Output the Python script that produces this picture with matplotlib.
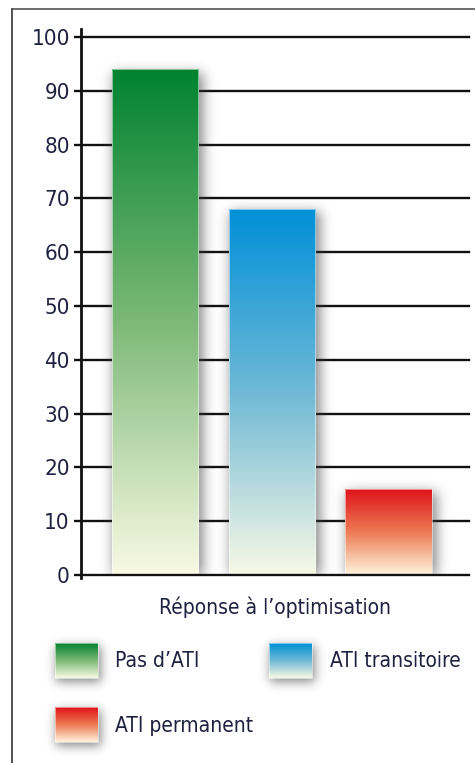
import numpy as np
import matplotlib
matplotlib.use("Agg")
import matplotlib.pyplot as plt
from matplotlib.colors import LinearSegmentedColormap

plt.rcParams['font.family'] = ['DejaVu Sans']
plt.rcParams['font.stretch'] = 'condensed'

categories = ["Pas d\u2019ATI", "ATI transitoire", "ATI permanent"]
values = [94, 68, 16]
yticks = [0, 10, 20, 30, 40, 50, 60, 70, 80, 90, 100]
xlabel = "R\u00e9ponse \u00e0 l\u2019optimisation"

# top / middle / bottom colour of each gradient
gradients = [
    ["#00832F", "#7DB978", "#F9FAE4"],
    ["#0090D8", "#6FB9D6", "#F8F9E6"],
    ["#E0101A", "#EC7A52", "#FFF4DE"],
]
text_col = "#1E2140"

W, H = 475, 763
fig = plt.figure(figsize=(W / 100, H / 100), dpi=100)

# full-figure overlay in pixel units for frame, label and legend
bg = fig.add_axes([0, 0, 1, 1], zorder=0)
bg.axis("off")

ax = fig.add_axes([81 / W, 1 - 575 / H, (469 - 81) / W, (575 - 37) / H], zorder=1)
ax.patch.set_alpha(0)

x = np.arange(len(values))
width = 0.74
xlim = (-0.634, 2.69)
ylim = (0, 100)
ax.set_xlim(*xlim)
ax.set_ylim(*ylim)


def blur(a, s):
    k = np.exp(-0.5 * (np.arange(-3 * s, 3 * s + 1) / s) ** 2)
    k /= k.sum()
    a = np.apply_along_axis(lambda r: np.convolve(r, k, mode="same"), 0, a)
    a = np.apply_along_axis(lambda r: np.convolve(r, k, mode="same"), 1, a)
    return a


# soft drop shadow under the bars
nx, ny = 388, 538
gx = np.linspace(*xlim, nx)
gy = np.linspace(ylim[1], ylim[0], ny)
GX, GY = np.meshgrid(gx, gy)
dx = 3 * (xlim[1] - xlim[0]) / nx
dy = 3 * (ylim[1] - ylim[0]) / ny
mask = np.zeros((ny, nx))
for xi, v in zip(x, values):
    inside = (np.abs(GX - xi - dx) <= width / 2 + 2 * dx / 3) & (GY <= v - dy) & (GY >= -3 * dy)
    mask[inside] = 1
sh = blur(mask, 6)
shadow = np.zeros((ny, nx, 4))
shadow[..., :3] = 0.25
shadow[..., 3] = np.clip(sh * 0.6, 0, 1)
ax.imshow(shadow, extent=(xlim[0], xlim[1], ylim[0], ylim[1]), aspect="auto",
          zorder=2, interpolation="bilinear")

for yt in yticks[1:]:
    ax.axhline(yt, color="#111111", lw=1.7, zorder=1, clip_on=False)
ax.axhline(0, color="#111111", lw=1.7, zorder=5, clip_on=False)

# gradient bars
ramp = np.linspace(1, 0, 256).reshape(-1, 1)
for xi, v, cols in zip(x, values, gradients):
    cmap = LinearSegmentedColormap.from_list("g", cols[::-1])
    bar = ax.bar(xi, v, width=width, color="none", edgecolor="none", zorder=3)[0]
    im = ax.imshow(ramp[::-1], cmap=cmap, extent=(xi - width / 2, xi + width / 2, 0, v),
                   aspect="auto", zorder=3, origin="lower")
    im.set_clip_path(bar)
    ax.add_patch(plt.Rectangle((xi - width / 2, 0), width, v, fill=False,
                               edgecolor="white", lw=0.6, alpha=0.6, zorder=4))

ax.set_xticks([])
ax.set_yticks(yticks)
ax.set_yticklabels([str(t) for t in yticks], fontsize=16, color=text_col)
ax.tick_params(axis="y", length=5, width=1.7, color="#111111", pad=3)
for s in ["top", "right", "bottom"]:
    ax.spines[s].set_visible(False)
ax.spines["left"].set_linewidth(2)
ax.spines["left"].set_color("#111111")
ax.spines["left"].set_bounds(-0.5, 101.5)

bg.text(275, 607, xlabel, fontsize=15, color=text_col, ha="center", va="center")

# page frame
bg.plot([12, 12], [9, H], color="#333333", lw=1.2)
bg.plot([12, W], [9, 9], color="#555555", lw=1.2)

# legend swatches with shadow
swatches = [(55, 643), (269, 643), (55, 707)]
lab_pos = [(115, 661), (330, 661), (115, 726)]
sw, shh = 43, 35
lm = np.zeros((H, W))
for (sx, sy) in swatches:
    lm[sy + 3:sy + shh + 4, sx + 1:sx + sw + 3] = 1
lsh = blur(lm, 5)
limg = np.zeros((H, W, 4))
limg[..., :3] = 0.25
limg[..., 3] = np.clip(lsh * 0.6, 0, 1)
bg.imshow(limg, extent=(0, W, H, 0), aspect="auto", zorder=1)

for (sx, sy), (tx, ty), name, cols in zip(swatches, lab_pos, categories, gradients):
    cmap = LinearSegmentedColormap.from_list("g", cols[::-1])
    bg.imshow(ramp, cmap=cmap, extent=(sx, sx + sw, sy + shh, sy), aspect="auto", zorder=2)
    bg.add_patch(plt.Rectangle((sx, sy), sw, shh, fill=False, edgecolor="white",
                               lw=0.6, alpha=0.6, zorder=3))
    bg.text(tx, ty, name, fontsize=15, color=text_col, ha="left", va="center", zorder=3)
bg.set_xlim(0, W)
bg.set_ylim(H, 0)

fig.savefig("out.png", dpi=100)
